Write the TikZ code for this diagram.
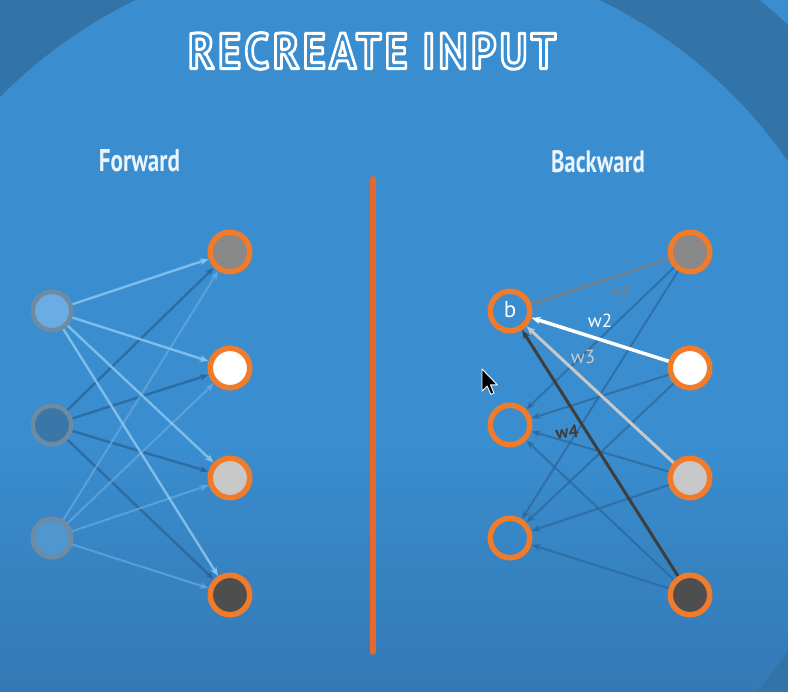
\documentclass[tikz,border=0pt]{standalone}
\usepackage{fontspec}
\setmainfont{PT Sans}
\usepackage{graphicx}
\usetikzlibrary{arrows.meta}
\definecolor{bglight}{HTML}{3A8ED0}
\definecolor{bgbottom}{HTML}{3379B5}
\definecolor{bgdark}{HTML}{3273A8}
\definecolor{ringorange}{HTML}{EF7B2B}
\definecolor{lineorange}{HTML}{E8672C}
\definecolor{ingray}{HTML}{6F8BA2}
\definecolor{txtwhite}{HTML}{EAF4FC}
\definecolor{aone}{HTML}{8CC6EE}
\definecolor{atwo}{HTML}{2B6296}
\definecolor{athree}{HTML}{66A8DE}
\definecolor{bline}{HTML}{2C699E}
\definecolor{gmid}{HTML}{888888}
\definecolor{glight}{HTML}{C8C8C8}
\definecolor{gdark}{HTML}{4E4E4E}
\definecolor{inone}{HTML}{6AADE4}
\definecolor{intwo}{HTML}{3B76A8}
\definecolor{inthree}{HTML}{5096CF}
\definecolor{wone}{HTML}{7D7D7D}
\definecolor{wfour}{HTML}{3E3E3E}
\newcommand{\outlinetext}[1]{\special{pdf:literal direct 1 Tr 3 w 1 j}#1\special{pdf:literal direct 0 Tr}}
\begin{document}
\begin{tikzpicture}[x=1pt,y=-1pt,
  innode/.style={circle, minimum size=38.5pt, inner sep=0pt, line width=4.5pt, draw=ingray},
  outnode/.style={circle, minimum size=39.5pt, inner sep=0pt, line width=5.5pt, draw=ringorange},
  tip/.style={-{Stealth[length=9pt,width=7pt]}},
  lA/.style={tip, draw=aone, line width=2.4pt, draw opacity=0.85},
  lB/.style={tip, draw=atwo, line width=2.4pt, draw opacity=0.75},
  lC/.style={tip, draw=athree, line width=2pt, draw opacity=0.75},
  rB/.style={tip, draw=bline, line width=2pt, draw opacity=0.8},
  lbl/.style={font=\fontsize{19}{19}\selectfont, inner sep=0pt}
]
\path[use as bounding box] (0,0) rectangle (788,692);
\clip (0,0) rectangle (788,692);
% background
\fill[bglight] (0,0) rectangle (788,692);
\fill[bgdark] (367.5,406) ellipse [x radius=589pt, y radius=544pt];
\begin{scope}
  \clip (367.5,406) ellipse [x radius=496.5pt, y radius=459pt];
  \fill[bglight] (0,0) rectangle (788,692);
  \shade[top color=bglight, bottom color=bgbottom] (0,430) rectangle (788,693);
\end{scope}

% title and headings
\node[inner sep=0pt, text=white] (title) at (372,51)
  {\resizebox{368pt}{36pt}{\bfseries\fontsize{50}{50}\selectfont\addfontfeatures{LetterSpace=8}\outlinetext{RECREATE INPUT}}};
\node[inner sep=0pt, text=txtwhite] (fwd) at (139.5,161) {\resizebox{81pt}{22pt}{\bfseries Forward}};
\node[inner sep=0pt, text=txtwhite] (bwd) at (598,161.5) {\resizebox{94pt}{22pt}{\bfseries Backward}};

% divider
\coordinate (dtop) at (373,179);
\coordinate (dbot) at (373,652);
\draw[lineorange, line width=5.5pt, line cap=round] (dtop) -- (dbot);

% left network
\node[innode, fill=inone] (I1) at (52,311) {};
\node[innode, fill=intwo] (I2) at (52,425) {};
\node[innode, fill=inthree] (I3) at (52,538) {};
\node[outnode, fill=gmid] (O1) at (230,252) {};
\node[outnode, fill=white] (O2) at (230,368) {};
\node[outnode, fill=glight] (O3) at (230,478) {};
\node[outnode, fill=gdark] (O4) at (230,595) {};

\foreach \o in {O1,O2,O3,O4} {
  \draw[lB] (I2) -- (\o);
}
\foreach \o in {O1,O2,O3,O4} {
  \draw[lC] (I3) -- (\o);
}
\foreach \o in {O1,O2,O3,O4} {
  \draw[lA] (I1) -- (\o);
}

% right network
\node[outnode] (L1) at (510,311) {};
\node[outnode] (L2) at (510,425) {};
\node[outnode] (L3) at (510,538) {};
\node[outnode, fill=gmid] (R1) at (690,252) {};
\node[outnode, fill=white] (R2) at (690,368) {};
\node[outnode, fill=glight] (R3) at (690,478) {};
\node[outnode, fill=gdark] (R4) at (690,595) {};
\node[lbl, text=white, font=\fontsize{23}{23}\selectfont] (bl) at (510,310) {b};

\foreach \r in {R1,R2,R3,R4} {
  \draw[rB] (\r) -- (L2);
  \draw[rB] (\r) -- (L3);
}
\draw[tip, draw=wone, line width=2pt] (R1) -- (L1);
\draw[tip, draw=glight, line width=3pt] (R3) -- (L1);
\draw[tip, draw=wfour, line width=3pt] (R4) -- (L1);
\draw[tip, draw=white, line width=3.5pt] (R2) -- (L1);

\node[lbl, text=wone, font=\fontsize{15}{15}\selectfont] (w1) at (621,291) {w1};
\node[lbl, text=white] (w2) at (600,321) {w2};
\node[lbl, text=glight] (w3) at (583,357) {w3};
\node[lbl, text=wfour, font=\bfseries\fontsize{18}{18}\selectfont, rotate=8] (w4) at (567,432) {w4};

% mouse cursor
\begin{scope}[shift={(482,369)}, scale=1.3]
  \filldraw[fill=black, draw=white, line width=0.9pt, line join=round]
    (0,0) -- (0,17) -- (4,13.2) -- (6.8,19.5) -- (9.2,18.5) -- (6.5,12.2) -- (11.8,12.2) -- cycle;
\end{scope}
\end{tikzpicture}
\end{document}
